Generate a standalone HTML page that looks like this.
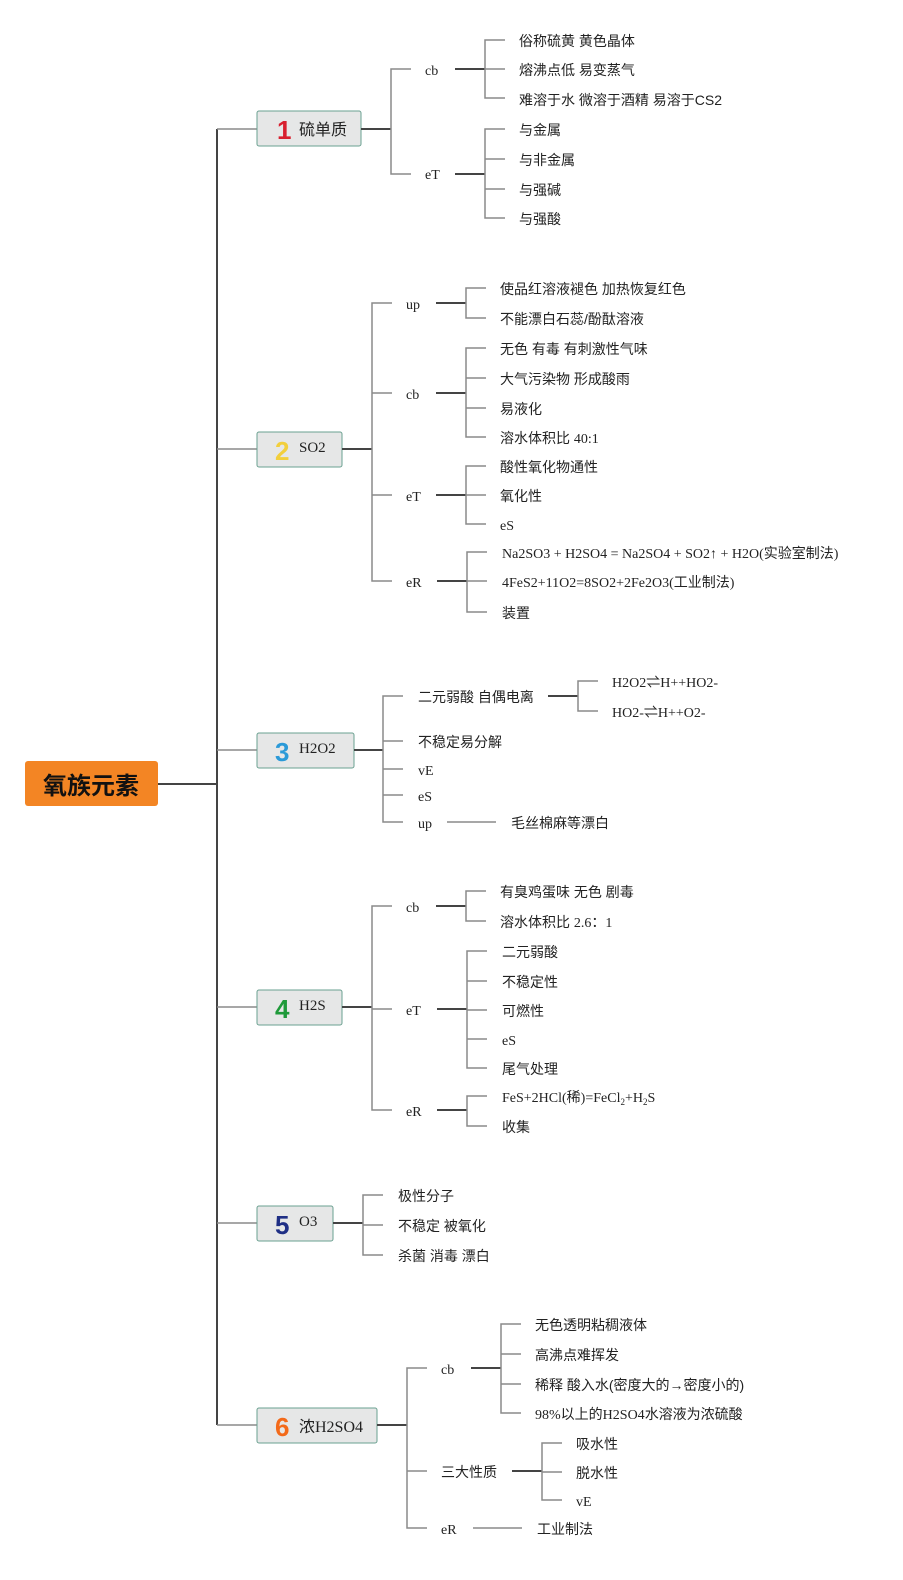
<!DOCTYPE html>
<html><head><meta charset="utf-8"><style>
html,body{margin:0;padding:0;background:#fff;}
svg{display:block;}
text{font-family:"Liberation Sans","Noto Sans CJK SC",sans-serif;font-size:14px;fill:#222;}
.s{font-family:"Liberation Serif","Noto Sans CJK SC",serif;}
.g{stroke:#8a8a8a;stroke-width:1.5;fill:none;}
.d{stroke:#444;stroke-width:2;fill:none;}
.box{fill:#e6e7e7;stroke:#6aa090;stroke-width:1;}
.num{font-family:"Liberation Sans",sans-serif;font-weight:bold;font-size:26px;}
</style></head><body>
<svg width="903" height="1580" viewBox="0 0 903 1580" xmlns="http://www.w3.org/2000/svg">
<!-- root -->
<rect x="25" y="761" width="133" height="45" rx="3" fill="#f38524"/>
<text x="91" y="794" text-anchor="middle" style="font-size:24px;font-weight:bold;fill:#111">氧族元素</text>
<path class="d" d="M158 784H217"/>
<path class="d" d="M217 129V1425"/>
<path class="g" d="M217 129H257M217 449H257M217 750H257M217 1007H257M217 1223H257M217 1425H257"/>

<!-- boxes -->
<rect class="box" x="257" y="111" width="104" height="35" rx="2"/>
<text class="num" x="277" y="139" style="fill:#d8202f">1</text><text x="299" y="135" style="font-size:16px">硫单质</text>
<rect class="box" x="257" y="432" width="85" height="35" rx="2"/>
<text class="num" x="275" y="460" style="fill:#f2cf3c">2</text><text class="s" x="299" y="452" style="font-size:15px">SO2</text>
<rect class="box" x="257" y="733" width="97" height="35" rx="2"/>
<text class="num" x="275" y="761" style="fill:#2b9ad8">3</text><text class="s" x="299" y="753" style="font-size:15px">H2O2</text>
<rect class="box" x="257" y="990" width="85" height="35" rx="2"/>
<text class="num" x="275" y="1018" style="fill:#1f9a3a">4</text><text class="s" x="299" y="1010" style="font-size:15px">H2S</text>
<rect class="box" x="257" y="1206" width="76" height="35" rx="2"/>
<text class="num" x="275" y="1234" style="fill:#1f2f85">5</text><text class="s" x="299" y="1226" style="font-size:15px">O3</text>
<rect class="box" x="257" y="1408" width="120" height="35" rx="2"/>
<text class="num" x="275" y="1436" style="fill:#f36a1a">6</text><text class="s" x="299" y="1432" style="font-size:16px">浓H2SO4</text>

<!-- section 1 -->
<path class="d" d="M361 129H391"/>
<path class="g" d="M411 69H391V174H411"/>
<text class="s" x="425" y="75">cb</text><text class="s" x="425" y="179">eT</text>
<path class="d" d="M455 69H485M455 174H485"/>
<path class="g" d="M505 40H485V98H505M485 69H505"/>
<path class="g" d="M505 129H485V218H505M485 159H505M485 189H505"/>
<text x="519" y="46">俗称硫黄 黄色晶体</text>
<text x="519" y="75">熔沸点低 易变蒸气</text>
<text x="519" y="105">难溶于水 微溶于酒精 易溶于CS2</text>
<text x="519" y="135">与金属</text>
<text x="519" y="165">与非金属</text>
<text x="519" y="195">与强碱</text>
<text x="519" y="224">与强酸</text>

<!-- section 2 -->
<path class="d" d="M342 449H372"/>
<path class="g" d="M392 303H372V581H392M372 393H392M372 495H392"/>
<text class="s" x="406" y="309">up</text><text class="s" x="406" y="399">cb</text><text class="s" x="406" y="501">eT</text><text class="s" x="406" y="587">eR</text>
<path class="d" d="M436 303H466M436 393H466M436 495H466M437 581H467"/>
<path class="g" d="M486 288H466V318H486"/>
<path class="g" d="M486 348H466V437H486M466 378H486M466 408H486"/>
<path class="g" d="M486 466H466V524H486M466 495H486"/>
<path class="g" d="M487 552H467V612H487M467 581H487"/>
<text x="500" y="294">使品红溶液褪色 加热恢复红色</text>
<text x="500" y="324">不能漂白石蕊/酚酞溶液</text>
<text x="500" y="354">无色 有毒 有刺激性气味</text>
<text x="500" y="384">大气污染物 形成酸雨</text>
<text x="500" y="414">易液化</text>
<text x="500" y="443">溶水体积比 <tspan class="s">40:1</tspan></text>
<text x="500" y="472">酸性氧化物通性</text>
<text x="500" y="501">氧化性</text>
<text class="s" x="500" y="530">eS</text>
<text class="s" x="502" y="558">Na2SO3 + H2SO4 = Na2SO4 + SO2↑ + H2O(实验室制法)</text>
<text class="s" x="502" y="587">4FeS2+11O2=8SO2+2Fe2O3(工业制法)</text>
<text x="502" y="618">装置</text>

<!-- section 3 -->
<path class="d" d="M354 750H383"/>
<path class="g" d="M403 696H383V822H403M383 741H403M383 769H403M383 795H403"/>
<text x="418" y="702">二元弱酸 自偶电离</text>
<text x="418" y="747">不稳定易分解</text>
<text class="s" x="418" y="775">vE</text>
<text class="s" x="418" y="801">eS</text>
<text class="s" x="418" y="828">up</text>
<path class="d" d="M548 696H578"/>
<path class="g" d="M598 681H578V711H598"/>
<text class="s" x="612" y="687">H2O2⇌H++HO2-</text>
<text class="s" x="612" y="717">HO2-⇌H++O2-</text>
<path class="g" d="M447 822H496"/>
<text x="511" y="828">毛丝棉麻等漂白</text>

<!-- section 4 -->
<path class="d" d="M342 1007H372"/>
<path class="g" d="M392 906H372V1110H392M372 1009H392"/>
<text class="s" x="406" y="912">cb</text><text class="s" x="406" y="1015">eT</text><text class="s" x="406" y="1116">eR</text>
<path class="d" d="M436 906H466M437 1009H467M437 1110H467"/>
<path class="g" d="M486 891H466V921H486"/>
<path class="g" d="M487 951H467V1068H487M467 981H487M467 1010H487M467 1039H487"/>
<path class="g" d="M487 1096H467V1126H487"/>
<text x="500" y="897">有臭鸡蛋味 无色 剧毒</text>
<text x="500" y="927">溶水体积比 <tspan class="s">2.6：1</tspan></text>
<text x="502" y="957">二元弱酸</text>
<text x="502" y="987">不稳定性</text>
<text x="502" y="1016">可燃性</text>
<text class="s" x="502" y="1045">eS</text>
<text x="502" y="1074">尾气处理</text>
<text class="s" x="502" y="1102">FeS+2HCl(稀)=FeCl<tspan style="font-size:9px" dy="3">2</tspan><tspan dy="-3">+H</tspan><tspan style="font-size:9px" dy="3">2</tspan><tspan dy="-3">S</tspan></text>
<text x="502" y="1132">收集</text>

<!-- section 5 -->
<path class="d" d="M333 1223H363"/>
<path class="g" d="M383 1195H363V1255H383M363 1225H383"/>
<text x="398" y="1201">极性分子</text>
<text x="398" y="1231">不稳定 被氧化</text>
<text x="398" y="1261">杀菌 消毒 漂白</text>

<!-- section 6 -->
<path class="d" d="M377 1425H407"/>
<path class="g" d="M427 1368H407V1528H427M407 1471H427"/>
<text class="s" x="441" y="1374">cb</text>
<text x="441" y="1477">三大性质</text>
<text class="s" x="441" y="1534">eR</text>
<path class="d" d="M471 1368H501M512 1471H542"/>
<path class="g" d="M521 1324H501V1413H521M501 1354H521M501 1384H521"/>
<path class="g" d="M562 1443H542V1500H562M542 1472H562"/>
<path class="g" d="M473 1528H522"/>
<text x="535" y="1330">无色透明粘稠液体</text>
<text x="535" y="1360">高沸点难挥发</text>
<text x="535" y="1390">稀释 酸入水(密度大的→密度小的)</text>
<text x="535" y="1419"><tspan class="s">98%</tspan>以上的<tspan class="s">H2SO4</tspan>水溶液为浓硫酸</text>
<text x="576" y="1449">吸水性</text>
<text x="576" y="1478">脱水性</text>
<text class="s" x="576" y="1506">vE</text>
<text x="537" y="1534">工业制法</text>
</svg>
</body></html>
